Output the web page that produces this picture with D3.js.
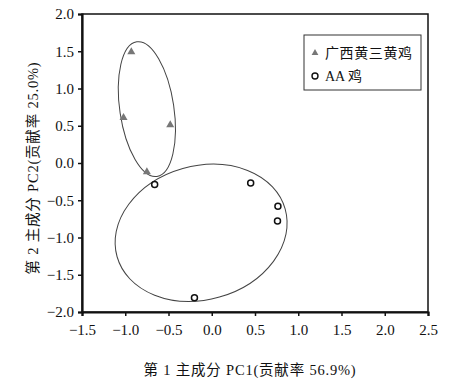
<!DOCTYPE html>
<html><head><meta charset="utf-8">
<script src="https://cdn.jsdelivr.net/npm/d3@7"></script>
<style>body{margin:0;background:#fff}</style>
</head><body>
<script>
const xTicks = [-1.5,-1.0,-0.5,0.0,0.5,1.0,1.5,2.0,2.5];
const yTicks = [-2.0,-1.5,-1.0,-0.5,0.0,0.5,1.0,1.5,2.0];
const gxX = [-0.93,-1.02,-0.48,-0.75];
const gxY = [1.49,0.61,0.51,-0.12];
const aaX = [-0.66,0.45,0.765,0.76,-0.20];
const aaY = [-0.29,-0.27,-0.58,-0.78,-1.81];
const seriesNames = ["广西黄三黄鸡","AA 鸡"];
// ellipse: center x, center y, radius along x (data), radius along y (data), rotation deg
const ellCx = [-0.75,-0.123];
const ellCy = [0.723,-0.937];
const ellRx = [0.3125,1.01];
const ellRy = [0.914,0.897];
const ellRot = [-8.5,-15.9];
const xTitle = "第 1 主成分 PC1(贡献率 56.9%)";
const yTitle = "第 2 主成分 PC2(贡献率 25.0%)";

const W=451,H=385;
const m={l:82,r:23,t:14,b:73};
const svg=d3.select("body").append("svg").attr("width",W).attr("height",H);
const x=d3.scaleLinear().domain([-1.5,2.5]).range([m.l,W-m.r]);
const y=d3.scaleLinear().domain([-2,2]).range([H-m.b,m.t]);
const font='"Liberation Serif","Noto Sans CJK SC",serif';

// frame
svg.append("rect").attr("x",x(-1.5)).attr("y",y(2)).attr("width",x(2.5)-x(-1.5)).attr("height",y(-2)-y(2))
  .attr("fill","none").attr("stroke","#111").attr("stroke-width",1.5);

const xa=svg.append("g").attr("transform",`translate(0,${y(-2)})`)
  .call(d3.axisBottom(x).tickValues(xTicks).tickSize(4).tickPadding(8).tickFormat(d=>d3.format(".1f")(d).replace("-","−")));
const ya=svg.append("g").attr("transform",`translate(${x(-1.5)},0)`)
  .call(d3.axisLeft(y).tickValues(yTicks).tickSize(4).tickPadding(4).tickFormat(d=>d3.format(".1f")(d).replace("-","−")));
[xa,ya].forEach(g=>{
  g.select(".domain").attr("stroke","#111").attr("stroke-width",2.2);
  g.selectAll(".tick line").attr("stroke","#111").attr("stroke-width",1.5);
  g.selectAll("text").attr("font-family",font).attr("font-size",15).attr("fill","#111");
});

// ellipses
ellCx.forEach((cx,i)=>{
  svg.append("ellipse").attr("cx",0).attr("cy",0)
    .attr("rx",x(ellRx[i])-x(0)).attr("ry",y(0)-y(ellRy[i]))
    .attr("transform",`translate(${x(cx)},${y(ellCy[i])}) rotate(${ellRot[i]})`)
    .attr("fill","none").attr("stroke","#444").attr("stroke-width",1);
});

const tri=d3.symbol().type(d3.symbolTriangle).size(28);
svg.selectAll(".tri").data(gxX.map((v,i)=>[v,gxY[i]])).join("path")
  .attr("d",tri).attr("transform",d=>`translate(${x(d[0])},${y(d[1])})`).attr("fill","#777");
svg.selectAll(".cir").data(aaX.map((v,i)=>[v,aaY[i]])).join("circle")
  .attr("cx",d=>x(d[0])).attr("cy",d=>y(d[1])).attr("r",3).attr("fill","none").attr("stroke","#111").attr("stroke-width",1.5);

// legend
const lg=svg.append("g");
lg.append("rect").attr("x",304).attr("y",35).attr("width",117).attr("height",55).attr("fill","#fff").attr("stroke","#333").attr("stroke-width",1);
lg.append("path").attr("d",d3.symbol().type(d3.symbolTriangle).size(20)).attr("transform","translate(315,53)").attr("fill","#777");
lg.append("circle").attr("cx",315).attr("cy",76).attr("r",3).attr("fill","none").attr("stroke","#111").attr("stroke-width",1.4);
lg.append("text").attr("x",325).attr("y",58).text(seriesNames[0]).attr("font-family",font).attr("font-size",14).attr("letter-spacing",0.6).attr("fill","#111");
lg.append("text").attr("x",325).attr("y",81).text(seriesNames[1]).attr("font-family",font).attr("font-size",14).attr("fill","#111");

svg.append("text").attr("x",250).attr("y",375).attr("text-anchor","middle").text(xTitle)
  .attr("font-family",font).attr("font-size",14.5).attr("letter-spacing",0.8).attr("fill","#111");
svg.append("text").attr("transform",`translate(38,${168}) rotate(-90)`).attr("text-anchor","middle").text(yTitle)
  .attr("font-family",font).attr("font-size",14.5).attr("letter-spacing",0.8).attr("fill","#111");
</script>
</body></html>
